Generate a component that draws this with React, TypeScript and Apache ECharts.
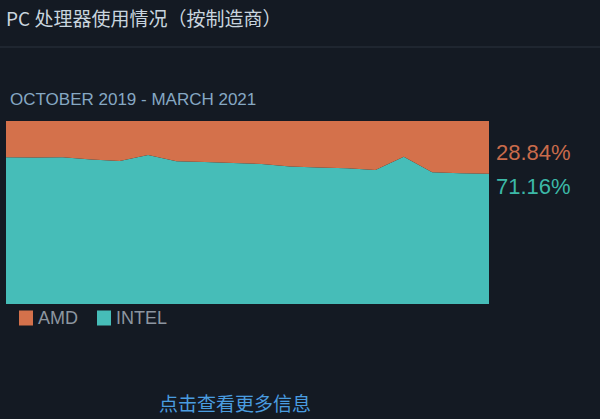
import React, { useEffect, useRef } from 'react';
import * as echarts from 'echarts';

// Steam hardware survey, Oct 2019 - Mar 2021 (share in %)
const months = [
  '2019-10', '2019-11', '2019-12', '2020-01', '2020-02', '2020-03',
  '2020-04', '2020-05', '2020-06', '2020-07', '2020-08', '2020-09',
  '2020-10', '2020-11', '2020-12', '2021-01', '2021-02', '2021-03',
];
const intelShare = [
  80.2, 80.1, 80.2, 79.0, 78.1, 81.4, 78.0, 77.6, 77.0,
  76.5, 75.2, 74.6, 74.2, 73.2, 80.5, 72.0, 71.5, 71.16,
];
const amdShare = intelShare.map((v) => +(100 - v).toFixed(2));
const seriesNames = ['AMD', 'INTEL'];

const ORANGE = '#d4714b';
const TEAL = '#46bdb8';

const App: React.FC = () => {
  const chartRef = useRef<HTMLDivElement>(null);

  useEffect(() => {
    if (!chartRef.current) return;
    const chart = echarts.init(chartRef.current, undefined, { renderer: 'svg' });
    const last = intelShare.length - 1;
    const latin = '"Liberation Sans", Arial, sans-serif';
    const cjk = '"Noto Sans CJK SC", sans-serif';

    chart.setOption({
      animation: false,
      backgroundColor: '#141a23',
      grid: { left: 6, right: 111, top: 121, bottom: 115 },
      legend: {
        data: seriesNames,
        left: 14,
        top: 304,
        itemWidth: 14,
        itemHeight: 15,
        itemGap: 19,
        icon: 'rect',
        textStyle: { color: '#8d96a0', fontSize: 18, fontFamily: latin },
      },
      xAxis: {
        type: 'category',
        data: months,
        boundaryGap: false,
        show: false,
      },
      yAxis: {
        type: 'value',
        min: 0,
        max: 100,
        show: false,
      },
      graphic: [
        {
          type: 'text',
          left: 6,
          top: 8,
          style: {
            text: 'PC 处理器使用情况（按制造商）',
            fill: '#c9d5df',
            font: `19px ${cjk}`,
          },
        },
        {
          type: 'line',
          shape: { x1: 0, y1: 47, x2: 600, y2: 47 },
          style: { stroke: '#2a333e', lineWidth: 1 },
        },
        {
          type: 'text',
          left: 10,
          top: 91,
          style: {
            text: 'OCTOBER 2019 - MARCH 2021',
            fill: '#86a8c3',
            font: `17px ${latin}`,
          },
        },
        {
          type: 'text',
          left: 496,
          top: 141,
          style: {
            text: `${amdShare[last].toFixed(2)}%`,
            fill: '#c96b4b',
            font: `22px ${latin}`,
          },
        },
        {
          type: 'text',
          left: 496,
          top: 175,
          style: {
            text: `${intelShare[last].toFixed(2)}%`,
            fill: '#3cb8a7',
            font: `22px ${latin}`,
          },
        },
        {
          type: 'text',
          left: 159,
          top: 393,
          style: {
            text: '点击查看更多信息',
            fill: '#4a9de0',
            font: `19px ${cjk}`,
          },
        },
      ],
      series: [
        {
          name: 'INTEL',
          type: 'line',
          stack: 'cpu',
          data: intelShare,
          symbol: 'none',
          lineStyle: { width: 0 },
          itemStyle: { color: TEAL },
          areaStyle: { color: TEAL, opacity: 1 },
        },
        {
          name: 'AMD',
          type: 'line',
          stack: 'cpu',
          data: amdShare,
          symbol: 'none',
          lineStyle: { width: 0 },
          itemStyle: { color: ORANGE },
          areaStyle: { color: ORANGE, opacity: 1 },
        },
      ],
    });

    return () => {
      chart.dispose();
    };
  }, []);

  return <div ref={chartRef} style={{ width: 600, height: 419, position: 'fixed', left: 0, top: 0 }} />;
};

export default App;
